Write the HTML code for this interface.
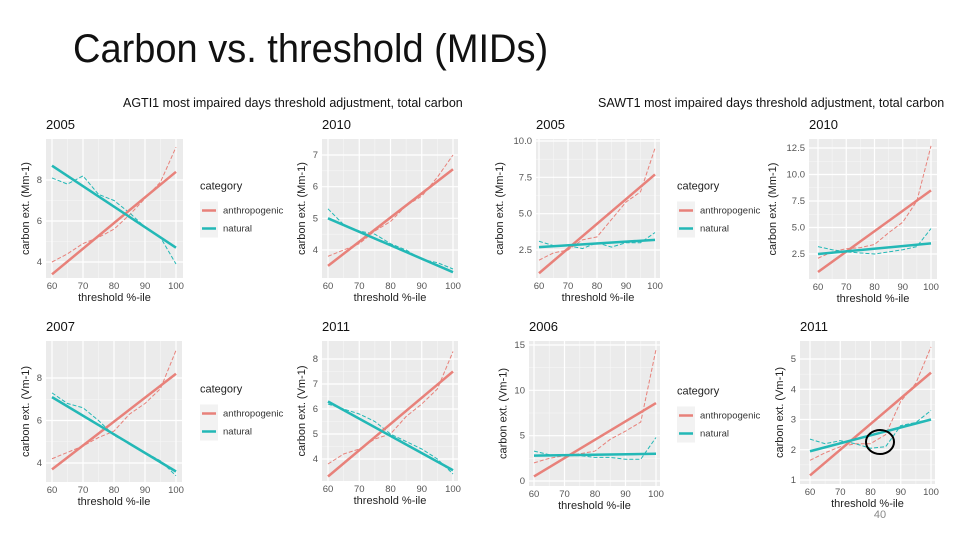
<!DOCTYPE html>
<html><head><meta charset="utf-8">
<style>
body{margin:0;background:#fff;}
#root{position:relative;width:960px;height:540px;overflow:hidden;background:#fff;font-family:"Liberation Sans",sans-serif;}
.title{position:absolute;left:73px;top:29px;font-size:40px;line-height:1;color:#111;font-family:"Liberation Sans",sans-serif;transform:scaleX(0.95);transform-origin:0 0;white-space:nowrap}
svg{position:absolute;left:0;top:0}
</style></head>
<body>
<div id="root">
<div class="title">Carbon vs. threshold (MIDs)</div>
<svg id="chart" width="960" height="540"></svg>
</div>
<script>
// x positions common to all panels
const xs = [60,65,70,75,80,85,90,95,100];
const xTicks = [60,70,80,90,100];
// panel titles
const years = ["2005","2010","2005","2010","2007","2011","2006","2011"];
// fitted lines [start,end]
const anthroFit = [[3.4,8.4],[3.5,6.55],[0.9,7.7],[0.8,8.5],[3.7,8.2],[3.3,7.5],[0.5,8.6],[1.15,4.55]];
const naturalFit = [[8.7,4.7],[5.0,3.3],[2.7,3.2],[2.5,3.5],[7.1,3.6],[6.3,3.55],[2.8,3.0],[1.95,3.0]];
// raw dashed series
const anthroRaw = [
 [4.0,4.4,4.9,5.2,5.6,6.3,7.1,7.9,9.6],
 [3.8,4.0,4.2,4.6,4.9,5.4,5.7,6.3,7.0],
 [1.8,2.3,2.5,3.2,3.4,4.6,5.8,6.5,9.5],
 [2.1,2.7,3.0,3.1,3.4,4.5,5.5,7.5,12.7],
 [4.2,4.5,4.8,5.2,5.5,6.3,6.8,7.5,9.3],
 [3.8,4.2,4.4,4.8,5.0,5.7,6.2,6.8,8.3],
 [2.0,2.5,2.8,3.0,3.3,4.6,5.5,6.5,14.5],
 [1.65,1.9,2.1,2.2,2.2,2.5,3.6,4.2,5.4]];
const naturalRaw = [
 [8.1,7.8,8.2,7.3,7.0,6.4,5.7,5.2,3.9],
 [5.3,4.8,4.6,4.5,4.2,4.0,3.7,3.6,3.4],
 [3.1,2.8,2.8,2.6,3.0,2.7,3.0,3.0,3.7],
 [3.2,2.9,2.7,2.6,2.5,2.7,2.9,3.2,4.9],
 [7.3,6.8,6.6,6.0,5.3,4.9,4.5,4.1,3.4],
 [6.2,6.0,5.8,5.5,5.0,4.7,4.4,4.0,3.4],
 [3.3,2.9,2.8,2.8,2.6,2.6,2.4,2.4,4.8],
 [2.35,2.2,2.3,2.2,2.05,2.1,2.8,2.9,3.3]];
// y ticks per panel
const yTicks = [[4,6,8],[4,5,6,7],[2.5,5,7.5,10],[2.5,5,7.5,10,12.5],[4,6,8],[4,5,6,7,8],[0,5,10,15],[1,2,3,4,5]];
const yLabels = [["4","6","8"],["4","5","6","7"],["2.5","5.0","7.5","10.0"],["2.5","5.0","7.5","10.0","12.5"],["4","6","8"],["4","5","6","7","8"],["0","5","10","15"],["1","2","3","4","5"]];
// layout (not data)
const L = [
 {x0:46,x1:183,y0:139,y1:278,px60:52,px100:176,ta:[4,262],tb:[8,180],yl:"carbon ext. (Mm-1)",leg:200},
 {x0:322,x1:458,y0:139,y1:278,px60:328,px100:453,ta:[4,250],tb:[7,155],yl:"carbon ext. (Mm-1)",leg:null},
 {x0:536,x1:660,y0:139,y1:278,px60:539,px100:655,ta:[2.5,250],tb:[10,141],yl:"carbon ext. (Mm-1)",leg:677},
 {x0:809,x1:937,y0:139,y1:279,px60:818,px100:931,ta:[2.5,254],tb:[12.5,148],yl:"carbon ext. (Mm-1)",leg:null},
 {x0:46,x1:182,y0:341,y1:482,px60:52,px100:176,ta:[4,463],tb:[8,378],yl:"carbon ext. (Vm-1)",leg:200},
 {x0:322,x1:458,y0:341,y1:481,px60:328,px100:453,ta:[4,459],tb:[8,359],yl:"carbon ext. (Vm-1)",leg:null},
 {x0:529,x1:660,y0:341,y1:486,px60:534,px100:656,ta:[0,481],tb:[15,345],yl:"carbon ext. (Vm-1)",leg:677},
 {x0:800,x1:935,y0:341,y1:484,px60:810,px100:931,ta:[1,480],tb:[5,359],yl:"carbon ext. (Vm-1)",leg:null}];
const NS="http://www.w3.org/2000/svg";
const svg=document.getElementById('chart');
function mk(tag,attrs,parent){const e=document.createElementNS(NS,tag);for(const k in attrs)e.setAttribute(k,attrs[k]);(parent||svg).appendChild(e);return e;}
function txt(s,attrs,parent){const e=mk('text',attrs,parent);e.textContent=s;return e;}
const RED="#E8817A",TEAL="#23B8B6";
let h=txt("AGTI1 most impaired days threshold adjustment, total carbon",{x:123,y:107,"font-size":"12.5",fill:"#111"});


h=txt("SAWT1 most impaired days threshold adjustment, total carbon",{x:598,y:107,"font-size":"12.5",fill:"#111"});


for(let i=0;i<8;i++){
  const l=L[i];
  const g=mk('g',{});
  
  
  const X=v=>l.px60+(v-60)*(l.px100-l.px60)/40;
  const Y=v=>l.ta[1]+(v-l.ta[0])*(l.tb[1]-l.ta[1])/(l.tb[0]-l.ta[0]);
  const bg=mk('rect',{x:l.x0,y:l.y0,width:l.x1-l.x0,height:l.y1-l.y0,fill:"#EBEBEB"},g);
  
  
  for(const t of [65,75,85,95]) mk('line',{x1:X(t),x2:X(t),y1:l.y0,y2:l.y1,stroke:"#F7F7F7","stroke-width":0.6},g);
  const yt=yTicks[i];
  for(let k=0;k<yt.length-1;k++){const m=(yt[k]+yt[k+1])/2;mk('line',{x1:l.x0,x2:l.x1,y1:Y(m),y2:Y(m),stroke:"#F7F7F7","stroke-width":0.6},g);}
  for(const t of xTicks){mk('line',{x1:X(t),x2:X(t),y1:l.y0,y2:l.y1,stroke:"#fff","stroke-width":1.2},g);
    const tl=txt(String(t),{x:X(t),y:l.y1+11,"font-size":"9.5","text-anchor":"middle",fill:"#555"},g);
    
    }
  let maxLen=1;
  yt.forEach((t,k)=>{mk('line',{x1:l.x0,x2:l.x1,y1:Y(t),y2:Y(t),stroke:"#fff","stroke-width":1.2},g);
    maxLen=Math.max(maxLen,yLabels[i][k].length);
    const tl=txt(yLabels[i][k],{x:l.x0-4,y:Y(t)+3,"font-size":"9.5","text-anchor":"end",fill:"#555"},g);
    
    });
  const pr=anthroRaw[i].map((v,k)=>X(xs[k])+","+Y(v)).join(" ");
  const a1=mk('polyline',{points:pr,fill:"none",stroke:RED,"stroke-width":1,"stroke-dasharray":"4,2"},g);
  
  
  const pn=naturalRaw[i].map((v,k)=>X(xs[k])+","+Y(v)).join(" ");
  const n1=mk('polyline',{points:pn,fill:"none",stroke:TEAL,"stroke-width":1,"stroke-dasharray":"4,2"},g);
  
  
  const a2=mk('line',{x1:X(60),y1:Y(anthroFit[i][0]),x2:X(100),y2:Y(anthroFit[i][1]),stroke:RED,"stroke-width":2.5},g);
  
  
  const n2=mk('line',{x1:X(60),y1:Y(naturalFit[i][0]),x2:X(100),y2:Y(naturalFit[i][1]),stroke:TEAL,"stroke-width":2.5},g);
  
  
  const tt=txt(years[i],{x:l.x0,y:l.y0-10,"font-size":"13",fill:"#111"},g);
  
  
  const xt=txt("threshold %-ile",{x:(l.x0+l.x1)/2,y:l.y1+23,"font-size":"11","text-anchor":"middle",fill:"#222"},g);
  
  
  const cy=(l.y0+l.y1)/2, cx=l.x0-12-maxLen*5.2;
  const ytl=txt(l.yl,{x:cx,y:cy,"font-size":"11","text-anchor":"middle",fill:"#222",transform:`rotate(-90 ${cx} ${cy})`},g);
  
  
  if(l.leg){
    const lg=mk('g',{},g);
    
    
    const ty=cy-19;
    txt("category",{x:l.leg,y:ty,"font-size":"11",fill:"#222"},lg);
    [[RED,"anthropogenic"],[TEAL,"natural"]].forEach((e,k)=>{
      const yy=ty+21+k*18;
      mk('rect',{x:l.leg,y:yy-9,width:18,height:18,fill:"#F2F2F2"},lg);
      mk('line',{x1:l.leg+2,x2:l.leg+16,y1:yy,y2:yy,stroke:e[0],"stroke-width":2.5},lg);
      const le=txt(e[1],{x:l.leg+23,y:yy+3,"font-size":"9.5",fill:"#333"},lg);
      
      
    });
  }
}
const c=mk('ellipse',{cx:880,cy:442,rx:14,ry:12,fill:"none",stroke:"#000","stroke-width":2});


const pg=txt("40",{x:880,y:518,"font-size":"11","text-anchor":"middle",fill:"#888"});


</script>
</body></html>
